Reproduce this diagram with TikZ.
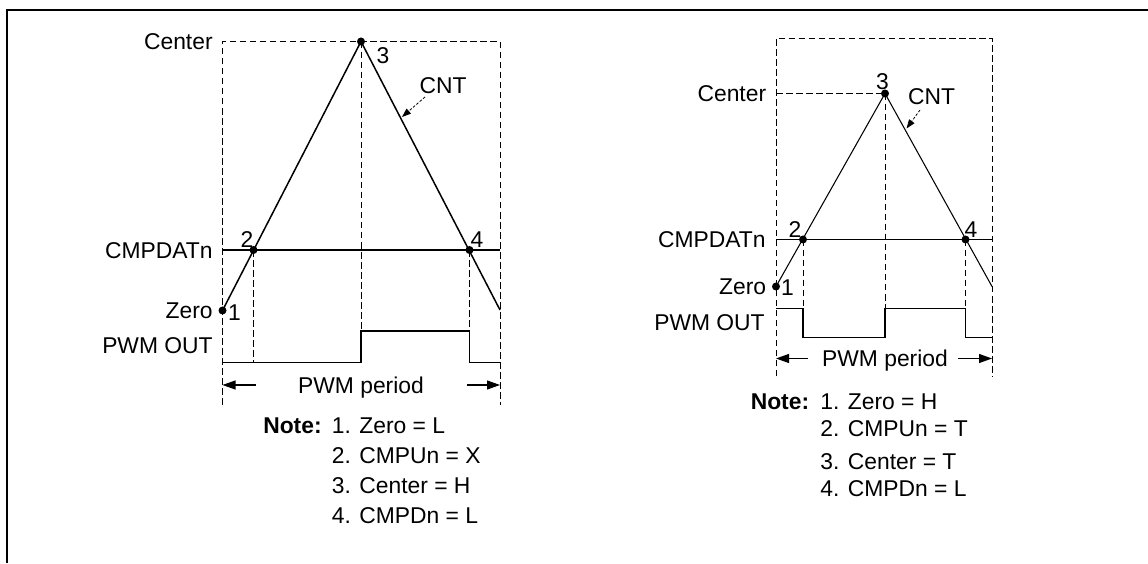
\documentclass[tikz,border=0pt]{standalone}
\usepackage{fontspec}
\setmainfont{Liberation Sans}
\usetikzlibrary{arrows.meta, positioning, calc}

\begin{document}
\begin{tikzpicture}[
  lbl/.style={inner sep=0pt, font=\fontsize{13}{15}\selectfont,
              text height=9.4pt, text depth=0pt},
  notehd/.style={lbl, font=\fontsize{13}{15}\selectfont\bfseries},
  dot/.style={circle, fill, inner sep=0pt, minimum size=0.16cm},
  guide/.style={dash pattern=on 3.8pt off 1.9pt, line width=0.5pt},
  cntA/.style={line width=0.85pt},
  cntB/.style={line width=0.6pt},
  cmp/.style={line width=0.6pt},
  pwm/.style={line width=0.7pt},
  parr/.style={->, line width=0.6pt, >={Triangle[length=2.6mm, width=1.8mm]}},
  carr/.style={->, dash pattern=on 1.5pt off 1pt, line width=0.45pt,
               >={Triangle[length=1.8mm, width=1.3mm]}},
  frm/.style={line width=1.1pt}
]
\useasboundingbox (0,0) rectangle (22.96,11.26);

%% ---- Frame ----
\coordinate (fbl) at (0.14, 0);
\coordinate (ftl) at (0.14, 11.06);
\coordinate (ftr) at (22.96, 11.06);
\draw[frm] (fbl) -- (ftl) -- (ftr);

%% ---- Left diagram: points ----
\coordinate (aBL) at (4.45, 3.16);
\coordinate (aTL) at (4.45, 10.43);
\coordinate (aTR) at (10.00, 10.43);
\coordinate (aBR) at (10.00, 3.16);
\coordinate (aCL) at (4.45, 6.26);
\coordinate (aCR) at (10.00, 6.26);
\coordinate (aE)  at (10.00, 5.06);

\node[dot] (a1) at (4.45, 5.05) {};
\node[dot] (a2) at (5.07, 6.26) {};
\node[dot] (a3) at (7.22, 10.43) {};
\node[dot] (a4) at (9.39, 6.26) {};

\coordinate (aP0) at (4.45, 4.01);
\coordinate (aP1) at (7.22, 4.01);
\coordinate (aP2) at (7.22, 4.64);
\coordinate (aP3) at (9.39, 4.64);
\coordinate (aP4) at (9.39, 4.01);
\coordinate (aP5) at (10.00, 4.01);

%% ---- Left diagram: guides ----
\draw[guide] (aBL) -- (aTL) -- (aTR) -- (aBR);
\draw[guide] (a2.center) -- (a2.center |- aP0);
\draw[guide] (a3.center) -- (aP2);
\draw[guide] (a4.center) -- (aP3);

%% ---- Left diagram: CNT, CMPDATn, PWM OUT ----
\draw[cmp] (aCL) -- (aCR);
\draw[cntA] (a1.center) -- (a3.center) -- (aE);
\draw[pwm] (aP0) -- (aP1) -- (aP2) -- (aP3) -- (aP4) -- (aP5);

%% ---- Left diagram: labels ----
\node[lbl, anchor=east] (actr) at (4.26, 10.43) {Center};
\node[lbl, anchor=east] (acmp) at (4.26, 6.26) {CMPDATn};
\node[lbl, anchor=east] (azer) at (4.26, 5.05) {Zero};
\node[lbl, anchor=east] (aout) at (4.26, 4.36) {PWM OUT};

\node[lbl] (an1) at (4.69, 5.02) {1};
\node[lbl] (an2) at (4.94, 6.48) {2};
\node[lbl] (an3) at (7.66, 10.16) {3};
\node[lbl] (an4) at (9.54, 6.48) {4};

\node[lbl] (acnt) at (8.86, 9.56) {CNT};
\coordinate (acntS) at (8.50, 9.32);
\coordinate (acntT) at (8.04, 8.92);
\draw[carr] (acntS) -- (acntT);

\node[lbl] (aper) at (7.22, 3.56) {PWM period};
\coordinate (aperL) at (5.12, 3.56);
\coordinate (aperR) at (9.34, 3.56);
\draw[parr] (aperL) -- (aBL |- aper);
\draw[parr] (aperR) -- (aBR |- aper);

\node[notehd, anchor=east] (anote) at (6.44, 2.76) {Note:};
\node[lbl, anchor=west] (ant1) at (6.63, 2.76) {1. Zero = L};
\node[lbl, anchor=west] (ant2) at (6.63, 2.15) {2. CMPUn = X};
\node[lbl, anchor=west] (ant3) at (6.63, 1.55) {3. Center = H};
\node[lbl, anchor=west] (ant4) at (6.63, 0.96) {4. CMPDn = L};

%% ---- Right diagram: points ----
\coordinate (bBL) at (15.52, 3.73);
\coordinate (bTL) at (15.52, 10.49);
\coordinate (bTR) at (19.84, 10.49);
\coordinate (bBR) at (19.84, 3.73);
\coordinate (bCL) at (15.52, 6.47);
\coordinate (bCR) at (19.84, 6.47);
\coordinate (bE)  at (19.84, 5.53);

\node[dot] (b1) at (15.52, 5.53) {};
\node[dot] (b2) at (16.06, 6.47) {};
\node[dot] (b3) at (17.70, 9.39) {};
\node[dot] (b4) at (19.31, 6.47) {};

\coordinate (bP0) at (15.52, 5.09);
\coordinate (bP1) at (16.06, 5.09);
\coordinate (bP2) at (16.06, 4.51);
\coordinate (bP3) at (17.70, 4.51);
\coordinate (bP4) at (17.70, 5.09);
\coordinate (bP5) at (19.31, 5.09);
\coordinate (bP6) at (19.31, 4.51);
\coordinate (bP7) at (19.84, 4.51);

%% ---- Right diagram: guides ----
\draw[guide] (bBL) -- (bTL) -- (bTR) -- (bBR);
\draw[guide] (bTL |- b3.center) -- (b3.center);
\draw[guide] (b2.center) -- (bP1);
\draw[guide] (b3.center) -- (bP4);
\draw[guide] (b4.center) -- (bP5);

%% ---- Right diagram: CNT, CMPDATn, PWM OUT ----
\draw[cmp] (bCL) -- (bCR);
\draw[cntB] (b1.center) -- (b3.center) -- (bE);
\draw[pwm] (bP0) -- (bP1) -- (bP2) -- (bP3) -- (bP4) -- (bP5) -- (bP6) -- (bP7);

%% ---- Right diagram: labels ----
\node[lbl, anchor=east] (bctr) at (15.33, 9.39) {Center};
\node[lbl, anchor=east] (bcmp) at (15.32, 6.47) {CMPDATn};
\node[lbl, anchor=east] (bzer) at (15.33, 5.53) {Zero};
\node[lbl, anchor=east] (bout) at (15.30, 4.82) {PWM OUT};

\node[lbl] (bn1) at (15.75, 5.52) {1};
\node[lbl] (bn2) at (15.90, 6.67) {2};
\node[lbl] (bn3) at (17.65, 9.63) {3};
\node[lbl] (bn4) at (19.42, 6.68) {4};

\node[lbl] (bcnt) at (18.63, 9.33) {CNT};
\coordinate (bcntS) at (18.40, 9.06);
\coordinate (bcntT) at (18.13, 8.69);
\draw[carr] (bcntS) -- (bcntT);

\node[lbl] (bper) at (17.70, 4.09) {PWM period};
\coordinate (bperL) at (16.16, 4.09);
\coordinate (bperR) at (19.16, 4.09);
\draw[parr] (bperL) -- (bBL |- bper);
\draw[parr] (bperR) -- (bBR |- bper);

\node[notehd, anchor=east] (bnote) at (16.19, 3.23) {Note:};
\node[lbl, anchor=west] (bnt1) at (16.40, 3.23) {1. Zero = H};
\node[lbl, anchor=west] (bnt2) at (16.40, 2.69) {2. CMPUn = T};
\node[lbl, anchor=west] (bnt3) at (16.40, 2.03) {3. Center = T};
\node[lbl, anchor=west] (bnt4) at (16.40, 1.49) {4. CMPDn = L};

\end{tikzpicture}
\end{document}
